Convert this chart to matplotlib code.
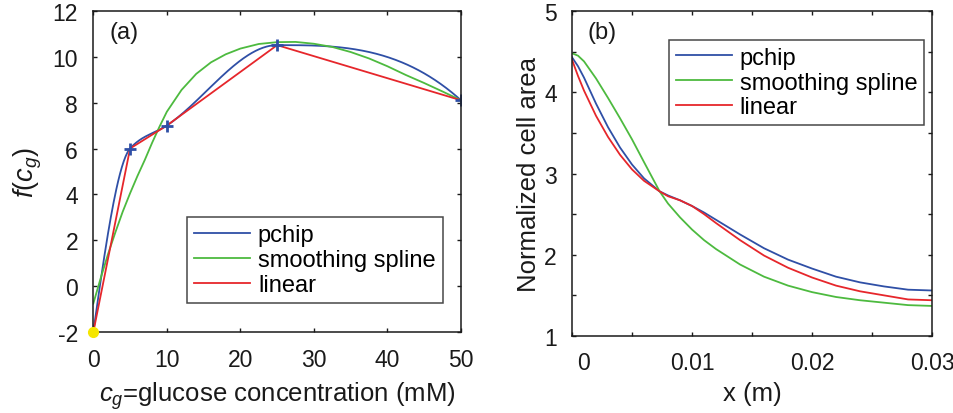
import numpy as np
import matplotlib
matplotlib.use("Agg")
import matplotlib.pyplot as plt
from matplotlib.ticker import FixedLocator, FuncFormatter
from matplotlib.transforms import ScaledTranslation

plt.rcParams['font.family'] = ['Liberation Sans', 'DejaVu Sans']
plt.rcParams['mathtext.fontset'] = 'custom'
plt.rcParams['mathtext.rm'] = 'Liberation Sans'
plt.rcParams['mathtext.it'] = 'Liberation Sans:italic'
plt.rcParams['mathtext.bf'] = 'Liberation Sans:bold'
plt.rcParams['axes.unicode_minus'] = False

# ---- panel (a): glucose response function ----
glucose_knots = [0, 5, 10, 25, 50]
response_knots = [-2, 6, 7, 10.5, 8.1]

spline_c = [0, 1, 2, 3, 4, 5, 6, 7, 8, 9, 10, 12, 14, 16, 18, 20, 22.5, 25,
            27.5, 30, 32.5, 35, 37.5, 40, 42.5, 45, 47.5, 50]
spline_f = [-0.75, 0.35, 1.4, 2.35, 3.25, 4.05, 4.8, 5.5, 6.25, 6.95, 7.6,
            8.55, 9.25, 9.75, 10.1, 10.35, 10.55, 10.63, 10.64, 10.56, 10.42,
            10.2, 9.92, 9.58, 9.2, 8.85, 8.48, 8.1]

# ---- panel (b): normalized cell area along x ----
pos_x = [0, 0.0005, 0.001, 0.002, 0.003, 0.004, 0.005, 0.006, 0.0073, 0.008,
         0.009, 0.010, 0.011, 0.012, 0.014, 0.016, 0.018, 0.020, 0.022,
         0.024, 0.026, 0.028, 0.030]
area_pchip = [4.43, 4.32, 4.18, 3.86, 3.57, 3.32, 3.11, 2.94, 2.78, 2.73,
              2.67, 2.60, 2.52, 2.43, 2.25, 2.08, 1.94, 1.83, 1.73, 1.66,
              1.61, 1.57, 1.56]
area_spline = [4.48, 4.45, 4.38, 4.17, 3.93, 3.68, 3.42, 3.14, 2.78, 2.63,
               2.46, 2.31, 2.18, 2.07, 1.88, 1.73, 1.62, 1.54, 1.48, 1.44,
               1.41, 1.38, 1.37]
area_linear = [4.40, 4.20, 4.02, 3.71, 3.45, 3.23, 3.05, 2.91, 2.78, 2.72,
               2.67, 2.60, 2.50, 2.39, 2.18, 1.99, 1.84, 1.72, 1.62, 1.55,
               1.50, 1.45, 1.44]

labels = ['pchip', 'smoothing spline', 'linear']
C_BLUE = '#2f4fa6'
C_GREEN = '#4dba3f'
C_RED = '#e6262b'
TXT = '#1a1a1a'


def pchip_eval(xk, yk, xq):
    """Shape-preserving piecewise cubic Hermite interpolation."""
    xk = np.asarray(xk, float)
    yk = np.asarray(yk, float)
    h = np.diff(xk)
    d = np.diff(yk) / h
    n = len(xk)
    m = np.zeros(n)
    for k in range(1, n - 1):
        if d[k - 1] * d[k] > 0:
            w1 = 2 * h[k] + h[k - 1]
            w2 = h[k] + 2 * h[k - 1]
            m[k] = (w1 + w2) / (w1 / d[k - 1] + w2 / d[k])

    def end_slope(h0, h1, d0, d1):
        s = ((2 * h0 + h1) * d0 - h0 * d1) / (h0 + h1)
        if np.sign(s) != np.sign(d0):
            s = 0.0
        elif np.sign(d0) != np.sign(d1) and abs(s) > abs(3 * d0):
            s = 3 * d0
        return s

    m[0] = end_slope(h[0], h[1], d[0], d[1])
    m[-1] = end_slope(h[-1], h[-2], d[-1], d[-2])
    xq = np.asarray(xq, float)
    idx = np.clip(np.searchsorted(xk, xq) - 1, 0, n - 2)
    t = (xq - xk[idx]) / h[idx]
    h00 = 2 * t**3 - 3 * t**2 + 1
    h10 = t**3 - 2 * t**2 + t
    h01 = -2 * t**3 + 3 * t**2
    h11 = t**3 - t**2
    return (h00 * yk[idx] + h10 * h[idx] * m[idx]
            + h01 * yk[idx + 1] + h11 * h[idx] * m[idx + 1])


fig = plt.figure(figsize=(9.54, 4.14), dpi=100)
ax1 = fig.add_axes([0.0978, 0.195, 0.3854, 0.7768])
ax2 = fig.add_axes([0.5996, 0.186, 0.3774, 0.785])

FS_TICK = 16.5
FS_LEG = 17
FS_LAB = 18.5
LW = 1.3


def style_axes(ax):
    for sp in ax.spines.values():
        sp.set_linewidth(1.1)
        sp.set_color(TXT)
    ax.tick_params(direction='in', length=3.2, width=1.0, top=True,
                   right=True, labelsize=FS_TICK, colors=TXT, pad=11)


def style_legend(leg):
    leg.get_frame().set_edgecolor(TXT)
    leg.get_frame().set_linewidth(1.1)


LEG_KW = dict(fontsize=FS_LEG, frameon=True, fancybox=False,
              handlelength=2.35, handletextpad=0.35, borderpad=0.3,
              labelspacing=0.12, borderaxespad=0)

# panel (a)
cq = np.linspace(glucose_knots[0], glucose_knots[-1], 400)
ax1.plot(cq, pchip_eval(glucose_knots, response_knots, cq), color=C_BLUE,
         lw=LW, label=labels[0])
ax1.plot(spline_c, spline_f, color=C_GREEN, lw=LW, label=labels[1])
ax1.plot(glucose_knots, response_knots, color=C_RED, lw=LW, label=labels[2])
ax1.plot(glucose_knots[1:], response_knots[1:], '+', color=C_BLUE, ms=9,
         mew=2.0)
ax1.plot(glucose_knots[:1], response_knots[:1], 'o', color='#f5e600',
         ms=7, mec='#f5e600', clip_on=False, zorder=5)
ax1.set_xlim(0, 50)
ax1.set_ylim(-2, 12)
ax1.set_xticks([0, 10, 20, 30, 40, 50])
ax1.set_yticks([-2, 0, 2, 4, 6, 8, 10, 12])
style_axes(ax1)
ax1.set_xlabel('$c_g$=glucose concentration (mM)', fontsize=FS_LAB,
               color=TXT, labelpad=6)
ax1.set_ylabel('$f(c_g)$', fontsize=FS_LAB + 1, color=TXT, labelpad=6)
ax1.text(0.045, 0.935, '(a)', transform=ax1.transAxes, fontsize=FS_LEG,
         color=TXT, va='center')
leg1 = ax1.legend(loc='lower right', bbox_to_anchor=(0.950, 0.091), **LEG_KW)
style_legend(leg1)

# panel (b)
ax2.plot(pos_x, area_pchip, color=C_BLUE, lw=LW, label=labels[0])
ax2.plot(pos_x, area_spline, color=C_GREEN, lw=LW, label=labels[1])
ax2.plot(pos_x, area_linear, color=C_RED, lw=LW, label=labels[2])
ax2.set_xlim(0, 0.03)
ax2.set_ylim(1, 5)
ax2.xaxis.set_major_locator(FixedLocator(np.arange(0, 0.0301, 0.005)))
ax2.yaxis.set_major_locator(FixedLocator(np.arange(1, 5.01, 0.5)))
ax2.xaxis.set_major_formatter(FuncFormatter(
    lambda v, p: ('0' if abs(v) < 1e-9 else f'{v:g}')
    if abs(round(v / 0.01) * 0.01 - v) < 1e-9 else ''))
ax2.yaxis.set_major_formatter(FuncFormatter(
    lambda v, p: f'{v:.0f}' if abs(v - round(v)) < 1e-9 else ''))
style_axes(ax2)
ax2.set_xlabel('x (m)', fontsize=FS_LAB, color=TXT, labelpad=5)
ax2.set_ylabel('Normalized cell area', fontsize=FS_LAB, color=TXT,
               labelpad=2)
ax2.text(0.042, 0.935, '(b)', transform=ax2.transAxes, fontsize=FS_LEG,
         color=TXT, va='center')
leg2 = ax2.legend(loc='upper right', bbox_to_anchor=(0.979, 0.912), **LEG_KW)
style_legend(leg2)

# nudge the "0" label of panel (b) clear of the left spine
fig.canvas.draw()
zero_lbl = ax2.xaxis.get_major_ticks()[0].label1
zero_lbl.set_transform(zero_lbl.get_transform()
                       + ScaledTranslation(8 / 72, 0, fig.dpi_scale_trans))

fig.savefig('out.png', dpi=100)
